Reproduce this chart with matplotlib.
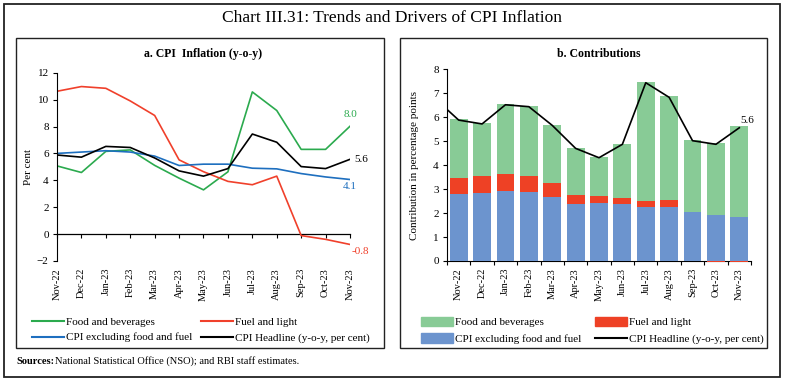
import matplotlib
matplotlib.use("Agg")
import matplotlib.pyplot as plt
from matplotlib.patches import Rectangle, Patch
from matplotlib.lines import Line2D
import numpy as np

plt.rcParams['font.family'] = ['Liberation Serif', 'DejaVu Serif']

months = ["Nov-22", "Dec-22", "Jan-23", "Feb-23", "Mar-23", "Apr-23", "May-23",
          "Jun-23", "Jul-23", "Aug-23", "Sep-23", "Oct-23", "Nov-23"]

# Panel a: y-o-y inflation (per cent)
food_yoy = [5.07, 4.58, 6.15, 6.26, 5.11, 4.16, 3.29, 4.63, 10.57, 9.19, 6.30, 6.30, 8.02]
fuel_yoy = [10.62, 10.97, 10.84, 9.90, 8.82, 5.52, 4.64, 3.92, 3.67, 4.31, -0.11, -0.39, -0.77]
core_yoy = [6.0, 6.1, 6.2, 6.1, 5.8, 5.1, 5.2, 5.2, 4.9, 4.85, 4.5, 4.25, 4.06]
headline_yoy = [5.88, 5.72, 6.52, 6.44, 5.66, 4.70, 4.31, 4.87, 7.44, 6.83, 5.02, 4.87, 5.56]

# Panel b: contributions (percentage points)
core_contrib = [2.78, 2.84, 2.92, 2.88, 2.69, 2.37, 2.41, 2.39, 2.27, 2.24, 2.05, 1.93, 1.85]
fuel_contrib = [0.70, 0.72, 0.71, 0.68, 0.57, 0.39, 0.32, 0.25, 0.24, 0.31, -0.01, -0.03, -0.05]
food_contrib = [2.43, 2.18, 2.92, 2.89, 2.41, 1.95, 1.61, 2.24, 4.97, 4.32, 3.00, 2.98, 3.77]
headline_prev = 6.77  # Oct-22 headline, line enters from the left edge

GREEN_A, RED_A, BLUE_A = '#2BAA4E', '#F0402B', '#1E6FBF'
GREEN_B, RED_B, BLUE_B = '#88CB96', '#EE4125', '#6C94CE'

W, H = 785, 383
fig = plt.figure(figsize=(W / 100, H / 100), dpi=100)

def fx(px):
    return px / W

def fy(py):
    return 1 - py / H

def box(x0, y0, x1, y1, lw=1.0):
    fig.patches.append(Rectangle((fx(x0), fy(y1)), fx(x1) - fx(x0), fy(y0) - fy(y1),
                                 transform=fig.transFigure, fill=False,
                                 edgecolor='#222222', linewidth=lw))

box(4, 4, 780, 377, lw=1.3)
box(16, 38, 384, 348)
box(400, 38, 767, 348)

fig.text(0.5, fy(18), "Chart III.31: Trends and Drivers of CPI Inflation",
         ha='center', va='center', fontsize=12.5)
src_b = fig.text(fx(16), fy(361), "Sources:", ha='left', va='center', fontsize=7.5,
                 fontweight='bold')
renderer = fig.canvas.get_renderer()
bb = src_b.get_window_extent(renderer=renderer)
fig.text(bb.x1 / W + fx(1), fy(361), "National Statistical Office (NSO); and RBI staff estimates.",
         ha='left', va='center', fontsize=7.5)

# ---------------- Panel a ----------------
axa = fig.add_axes([fx(57), fy(261), fx(350) - fx(57), fy(72.7) - fy(261)])
x = np.arange(len(months))
axa.plot(x, food_yoy, color=GREEN_A, lw=1.2)
axa.plot(x, fuel_yoy, color=RED_A, lw=1.2)
axa.plot(x, core_yoy, color=BLUE_A, lw=1.2)
axa.plot(x, headline_yoy, color='black', lw=1.2)
axa.set_xlim(0, 12)
axa.set_ylim(-2, 12)
axa.set_yticks(range(-2, 13, 2))
axa.set_xticks(x)
axa.set_xticklabels(months, rotation=90, fontsize=7.5)
axa.tick_params(axis='x', length=0, pad=5)
axa.tick_params(axis='y', labelsize=8, length=3, pad=3)
for s in ['top', 'right', 'bottom']:
    axa.spines[s].set_visible(False)
sec = axa.secondary_xaxis(2 / 14)
sec.set_xticks(x)
sec.set_xticklabels([])
sec.tick_params(length=3, width=0.8)
sec.spines['bottom'].set_linewidth(0.9)
axa.set_ylabel("Per cent", fontsize=8, labelpad=3)
axa.set_title("a. CPI  Inflation (y-o-y)", fontsize=8.5, fontweight='bold', pad=11)

axa.annotate(f"{food_yoy[-1]:.1f}", (x[-1], food_yoy[-1]), xytext=(0, 5),
             textcoords='offset points', color=GREEN_A, fontsize=8, ha='center', va='bottom')
axa.annotate(f"{headline_yoy[-1]:.1f}", (x[-1], headline_yoy[-1]), xytext=(3, 0),
             textcoords='offset points', color='black', fontsize=8, ha='left', va='center')
axa.annotate(f"{core_yoy[-1]:.1f}", (x[-1], core_yoy[-1]), xytext=(0, -2),
             textcoords='offset points', color=BLUE_A, fontsize=8, ha='center', va='top')
axa.annotate(f"{fuel_yoy[-1]:.1f}", (x[-1], fuel_yoy[-1]), xytext=(1, -2),
             textcoords='offset points', color=RED_A, fontsize=8, ha='left', va='top')

handles_a = [Line2D([], [], color=GREEN_A, lw=1.5), Line2D([], [], color=BLUE_A, lw=1.5),
             Line2D([], [], color=RED_A, lw=1.5), Line2D([], [], color='black', lw=1.5)]
labels_a = ["Food and beverages", "CPI excluding food and fuel",
            "Fuel and light", "CPI Headline (y-o-y, per cent)"]
fig.legend(handles_a, labels_a, ncol=2, loc='upper left',
           bbox_to_anchor=(fx(24), fy(309)), frameon=False, fontsize=8,
           handlelength=2.9, handletextpad=0.2, columnspacing=0.75, labelspacing=0.55,
           borderpad=0.2)

# ---------------- Panel b ----------------
axb = fig.add_axes([fx(447), fy(261), fx(751) - fx(447), fy(69.3) - fy(261)])
bw = 0.76
core_arr = np.array(core_contrib)
fuel_arr = np.array(fuel_contrib)
food_arr = np.array(food_contrib)
axb.bar(x, core_arr, width=bw, color=BLUE_B, zorder=2)
fuel_bottom = np.where(fuel_arr >= 0, core_arr, 0)
axb.bar(x, fuel_arr, width=bw, bottom=fuel_bottom, color=RED_B, zorder=2, clip_on=False)
food_bottom = core_arr + np.clip(fuel_arr, 0, None)
axb.bar(x, food_arr, width=bw, bottom=food_bottom, color=GREEN_B, zorder=2)
xl = np.concatenate([[-1], x])
yl = np.concatenate([[headline_prev], headline_yoy])
axb.plot(xl, yl, color='black', lw=1.2, zorder=3)
axb.set_xlim(-0.5, 12.5)
axb.set_ylim(0, 8)
axb.set_yticks(range(0, 9))
axb.set_xticks(x)
axb.set_xticklabels(months, rotation=90, fontsize=7.5)
axb.set_xticks(np.arange(-0.5, 13, 1), minor=True)
axb.tick_params(axis='x', which='major', length=0, pad=5)
axb.tick_params(axis='x', which='minor', length=3, width=0.8)
axb.tick_params(axis='y', labelsize=8, length=3, pad=3)
for s in ['top', 'right']:
    axb.spines[s].set_visible(False)
axb.spines['bottom'].set_zorder(1)
axb.set_ylabel("Contribution in percentage points", fontsize=8, labelpad=10)
axb.set_title("b. Contributions", fontsize=8.5, fontweight='bold', pad=9)
axb.annotate(f"{headline_yoy[-1]:.1f}", (x[-1], headline_yoy[-1]), xytext=(1, 2),
             textcoords='offset points', color='black', fontsize=8, ha='left', va='bottom')

handles_b = [Patch(color=GREEN_B), Patch(color=BLUE_B), Patch(color=RED_B),
             Line2D([], [], color='black', lw=1.5)]
labels_b = ["Food and beverages", "CPI excluding food and fuel",
            "Fuel and light", "CPI Headline (y-o-y, per cent)"]
fig.legend(handles_b, labels_b, ncol=2, loc='upper left',
           bbox_to_anchor=(fx(413), fy(309)), frameon=False, fontsize=8,
           handlelength=2.9, handleheight=0.9, handletextpad=0.2, columnspacing=1.2,
           labelspacing=0.55, borderpad=0.2)

fig.savefig("out.png", dpi=100)
